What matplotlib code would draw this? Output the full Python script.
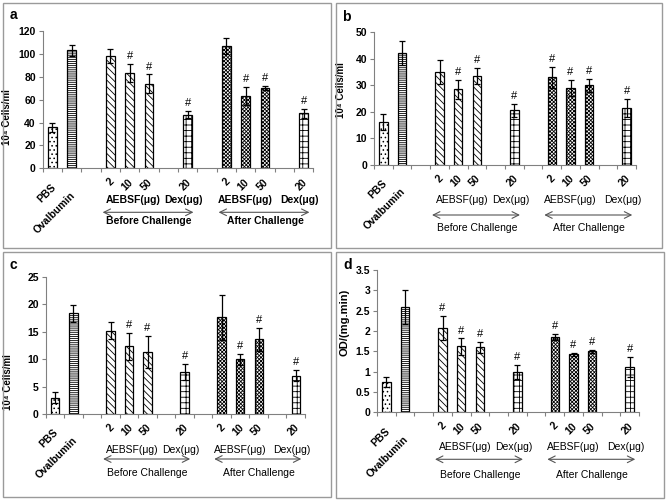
import matplotlib
matplotlib.use('Agg')
import matplotlib.pyplot as plt
import matplotlib.transforms as mtransforms
from matplotlib.patches import Rectangle
import numpy as np

plt.rcParams['font.family'] = ['Liberation Sans', 'DejaVu Sans']
plt.rcParams['hatch.linewidth'] = 0.6

# x categories, '' = empty slot
categories = ['PBS', 'Ovalbumin', '', '2', '10', '50', '', '20', '', '2', '10', '50', '', '20']

a_vals = [36, 103, None, 98, 83, 74, None, 47, None, 107, 63, 70, None, 48]
a_errs = [4, 5, None, 6, 8, 8, None, 3, None, 7, 8, 2, None, 4]
a_sig = [0, 0, 0, 0, 1, 1, 0, 1, 0, 0, 1, 1, 0, 1]

b_vals = [16, 42, None, 35, 28.5, 33.5, None, 20.5, None, 33, 29, 30, None, 21.5]
b_errs = [3, 4.5, None, 4.5, 3.5, 3, None, 2.5, None, 4, 3, 2.5, None, 3.5]
b_sig = [0, 0, 0, 0, 1, 1, 0, 1, 0, 1, 1, 1, 0, 1]

c_vals = [3, 18.3, None, 15.2, 12.3, 11.3, None, 7.6, None, 17.6, 10, 13.6, None, 7]
c_errs = [1, 1.5, None, 1.5, 2.4, 2.9, None, 1.5, None, 4.1, 1, 2.1, None, 1]
c_sig = [0, 0, 0, 0, 1, 1, 0, 1, 0, 0, 1, 1, 0, 1]

d_vals = [0.75, 2.6, None, 2.08, 1.62, 1.6, None, 1.0, None, 1.85, 1.43, 1.5, None, 1.12]
d_errs = [0.12, 0.42, None, 0.3, 0.2, 0.13, None, 0.17, None, 0.08, 0.04, 0.04, None, 0.25]
d_sig = [0, 0, 0, 1, 1, 1, 0, 1, 0, 1, 1, 1, 0, 1]

zig = '\\\\\\\\\\'
chk = 'xxxxxxxxx'
hatch_of = {0: '....', 1: '--------', 3: zig, 4: zig, 5: zig, 7: '+++',
            9: chk, 10: chk, 11: chk, 13: '+++'}

fig = plt.figure(figsize=(6.68, 5), dpi=100)


def px(x0, y0, x1, y1):
    return [x0 / 668, 1 - y1 / 500, (x1 - x0) / 668, (y1 - y0) / 500]


# panel frames
for (x0, y0, x1, y1) in [(3, 3, 331, 248), (336, 3, 662, 248), (3, 252, 331, 497), (336, 252, 664, 498)]:
    fig.patches.append(Rectangle((x0 / 668, 1 - y1 / 500), (x1 - x0) / 668, (y1 - y0) / 500,
                                 transform=fig.transFigure, fill=False, edgecolor='#9a9a9a', lw=1))


def panel(rect, letter, letter_xy, vals, errs, sig, ymax, ystep, ylabel, lab_xy, bold_text,
          offs, yfmt=None):
    ax = fig.add_axes(rect)
    for i, v in enumerate(vals):
        if v is None:
            continue
        ax.bar(i, v, width=0.45, color='white', edgecolor='black', lw=0.9,
               hatch=hatch_of[i], zorder=2)
        ax.errorbar(i, v, yerr=errs[i], color='black', lw=0.9, capsize=2.5, capthick=0.9, zorder=3)
        if sig[i]:
            ax.annotate('#', (i, v + errs[i]), xytext=(0, 2), textcoords='offset points',
                        ha='center', va='bottom', fontsize=8)
    ax.set_xlim(-0.5, len(categories) - 0.5)
    ax.set_ylim(0, ymax)
    ticks = np.arange(0, ymax + ystep / 2, ystep)
    ax.set_yticks(ticks)
    if yfmt:
        ax.set_yticklabels([yfmt(t) for t in ticks])
    ax.set_xticks(np.arange(-0.5, len(categories), 1.0))
    ax.set_xticklabels([])
    ax.tick_params(axis='x', direction='out', length=3, color='#808080')
    ax.tick_params(axis='y', direction='out', length=3, color='#808080', labelsize=7.5, pad=2)
    for lab in ax.get_yticklabels():
        lab.set_fontweight('bold')
    for s in ['top', 'right']:
        ax.spines[s].set_visible(False)
    for s in ['left', 'bottom']:
        ax.spines[s].set_color('#808080')
    ax.set_ylabel(ylabel, fontsize=7, fontweight='bold')
    ax.yaxis.set_label_coords(*lab_xy)

    base = mtransforms.blended_transform_factory(ax.transData, ax.transAxes)

    def tr(dy):
        return mtransforms.offset_copy(base, fig=fig, y=-dy, units='dots')

    # category labels
    for i, c in enumerate(categories):
        if not c:
            continue
        if c == 'PBS':
            dy = 17
        elif c == 'Ovalbumin':
            dy = 25
        else:
            dy = 12
        ax.text(i + 0.1, 0, c, transform=tr(dy), rotation=45, ha='right', va='center',
                rotation_mode='anchor', fontsize=7.5, fontweight='bold')

    w = 'bold' if bold_text else 'normal'
    t_dy, a_dy, c_dy = offs
    for x, s in [(4.2, 'AEBSF(μg)'), (6.8, 'Dex(μg)'), (10.0, 'AEBSF(μg)'), (12.8, 'Dex(μg)')]:
        ax.text(x, 0, s, transform=tr(t_dy), ha='center', va='center', fontsize=7.5, fontweight=w)
    for x0, x1 in [(2.6, 7.3), (8.6, 13.3)]:
        ax.annotate('', xy=(x1, 0), xytext=(x0, 0), xycoords=tr(a_dy), textcoords=tr(a_dy),
                    arrowprops=dict(arrowstyle='<->', color='#555555', lw=0.8, shrinkA=0, shrinkB=0,
                                    mutation_scale=12))
    ax.text(5.0, 0, 'Before Challenge', transform=tr(c_dy), ha='center', va='center',
            fontsize=7.5, fontweight=w)
    ax.text(11.0, 0, 'After Challenge', transform=tr(c_dy), ha='center', va='center',
            fontsize=7.5, fontweight=w)

    fig.text(letter_xy[0] / 668, 1 - letter_xy[1] / 500, letter, fontsize=10, fontweight='bold',
             ha='left', va='center')
    return ax


def dfmt(t):
    return ('%g' % t)


panel(px(42.7, 31, 313.3, 168.3), 'a', (10, 15), a_vals, a_errs, a_sig, 120, 20,
      '10⁴ Cells/ml', (-0.115, 0.37), True, (32, 44, 53))
panel(px(374, 32, 636, 165), 'b', (342, 17), b_vals, b_errs, b_sig, 50, 10,
      '10⁴ Cells/ml', (-0.105, 0.56), False, (35, 50, 63))
panel(px(45.7, 276.7, 305, 414), 'c', (10, 265), c_vals, c_errs, c_sig, 25, 5,
      '10⁴ Cells/ml', (-0.125, 0.23), False, (36, 45, 59))
axd = panel(px(377, 270, 639, 412.3), 'd', (343, 265), d_vals, d_errs, d_sig, 3.5, 0.5,
            'OD/(mg.min)', (-0.105, 0.63), False, (35, 47, 63), yfmt=dfmt)
axd.yaxis.label.set_fontsize(8)

fig.savefig('out.png', dpi=100)
